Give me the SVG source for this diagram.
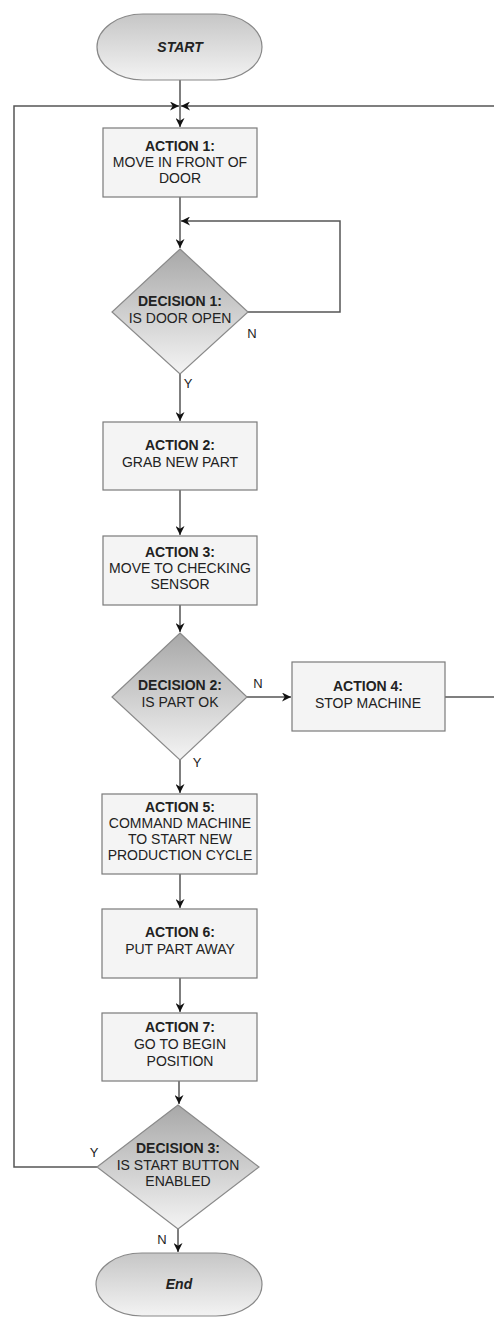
<svg xmlns="http://www.w3.org/2000/svg" width="494" height="1318" viewBox="0 0 494 1318">
<defs>
<linearGradient id="gPill" x1="0" y1="0" x2="0" y2="1">
<stop offset="0" stop-color="#c6c6c6"/>
<stop offset="1" stop-color="#f3f3f3"/>
</linearGradient>
<linearGradient id="gDia" x1="0" y1="0" x2="0" y2="1">
<stop offset="0" stop-color="#a8a8a8"/>
<stop offset="1" stop-color="#f4f4f4"/>
</linearGradient>
<marker id="arr" viewBox="0 0 10 10" refX="10" refY="5" markerWidth="9" markerHeight="9" markerUnits="userSpaceOnUse" orient="auto">
<path d="M0,0 L10,5 L0,10 L3,5 z" fill="#111"/>
</marker>
<style>
.pill{fill:url(#gPill);stroke:#888;stroke-width:1.2}
.box{fill:#f4f4f4;stroke:#7a7a7a;stroke-width:1.2}
.dia{fill:url(#gDia);stroke:#8a8a8a;stroke-width:1.2}
.t{font-family:"Liberation Sans",Arial,sans-serif;font-size:14px;fill:#222;text-anchor:middle}
.b{font-weight:bold}
.bi{font-weight:bold;font-style:italic}
.lbl{font-family:"Liberation Sans",Arial,sans-serif;font-size:13px;fill:#222;text-anchor:middle}
.c{fill:none;stroke:#555;stroke-width:1.5}
</style>
</defs>
<g id="connectors">
<path class="c" d="M180,80 V127" marker-end="url(#arr)"/>
<path class="c" d="M97,1167 H14 V106 H179" marker-end="url(#arr)"/>
<path class="c" d="M445,697 H500 V106 H181" marker-end="url(#arr)"/>
<path class="c" d="M180,197 V248" marker-end="url(#arr)"/>
<path class="c" d="M248,312 H340 V221 H181" marker-end="url(#arr)"/>
<path class="c" d="M180,374 V421" marker-end="url(#arr)"/>
<path class="c" d="M180,490 V535" marker-end="url(#arr)"/>
<path class="c" d="M180,605 V632" marker-end="url(#arr)"/>
<path class="c" d="M247,697 H291" marker-end="url(#arr)"/>
<path class="c" d="M180,760 V793" marker-end="url(#arr)"/>
<path class="c" d="M180,874 V908" marker-end="url(#arr)"/>
<path class="c" d="M180,978 V1012" marker-end="url(#arr)"/>
<path class="c" d="M179,1081 V1104" marker-end="url(#arr)"/>
<path class="c" d="M178,1229 V1252" marker-end="url(#arr)"/>
<text class="lbl" x="252" y="338">N</text>
<text class="lbl" x="188" y="388">Y</text>
<text class="lbl" x="258" y="688">N</text>
<text class="lbl" x="197" y="767">Y</text>
<text class="lbl" x="94" y="1157">Y</text>
<text class="lbl" x="162" y="1244">N</text>
</g>
<g id="start">
<rect class="pill" x="97" y="14" width="165" height="66" rx="46" ry="33"/>
<text class="t bi" x="180" y="52">START</text>
</g>
<g id="action1">
<rect class="box" x="103" y="128" width="154" height="69"/>
<text class="t b" x="180" y="151">ACTION 1:</text>
<text class="t" x="180" y="167">MOVE IN FRONT OF</text>
<text class="t" x="180" y="183">DOOR</text>
</g>
<g id="decision1">
<polygon class="dia" points="180,249 248,312 180,374 112,312"/>
<text class="t b" x="180" y="306">DECISION 1:</text>
<text class="t" x="180" y="323">IS DOOR OPEN</text>
</g>
<g id="action2">
<rect class="box" x="103" y="422" width="154" height="68"/>
<text class="t b" x="180" y="450">ACTION 2:</text>
<text class="t" x="180" y="467">GRAB NEW PART</text>
</g>
<g id="action3">
<rect class="box" x="103" y="536" width="154" height="69"/>
<text class="t b" x="180" y="557">ACTION 3:</text>
<text class="t" x="180" y="573">MOVE TO CHECKING</text>
<text class="t" x="180" y="589">SENSOR</text>
</g>
<g id="decision2">
<polygon class="dia" points="180,633 247,697 180,760 112,697"/>
<text class="t b" x="180" y="690">DECISION 2:</text>
<text class="t" x="180" y="707">IS PART OK</text>
</g>
<g id="action4">
<rect class="box" x="292" y="662" width="153" height="69"/>
<text class="t b" x="368" y="691">ACTION 4:</text>
<text class="t" x="368" y="708">STOP MACHINE</text>
</g>
<g id="action5">
<rect class="box" x="102" y="794" width="155" height="80"/>
<text class="t b" x="180" y="812">ACTION 5:</text>
<text class="t" x="180" y="828">COMMAND MACHINE</text>
<text class="t" x="180" y="844">TO START NEW</text>
<text class="t" x="180" y="860">PRODUCTION CYCLE</text>
</g>
<g id="action6">
<rect class="box" x="102" y="909" width="155" height="69"/>
<text class="t b" x="180" y="937">ACTION 6:</text>
<text class="t" x="180" y="954">PUT PART AWAY</text>
</g>
<g id="action7">
<rect class="box" x="102" y="1013" width="155" height="68"/>
<text class="t b" x="180" y="1032">ACTION 7:</text>
<text class="t" x="180" y="1049">GO TO BEGIN</text>
<text class="t" x="180" y="1066">POSITION</text>
</g>
<g id="decision3">
<polygon class="dia" points="178,1105 259,1167 178,1229 97,1167"/>
<text class="t b" x="178" y="1153">DECISION 3:</text>
<text class="t" x="178" y="1170">IS START BUTTON</text>
<text class="t" x="178" y="1186">ENABLED</text>
</g>
<g id="end">
<rect class="pill" x="96" y="1253" width="166" height="63" rx="46" ry="31.5"/>
<text class="t bi" x="179" y="1289">End</text>
</g>
</svg>
